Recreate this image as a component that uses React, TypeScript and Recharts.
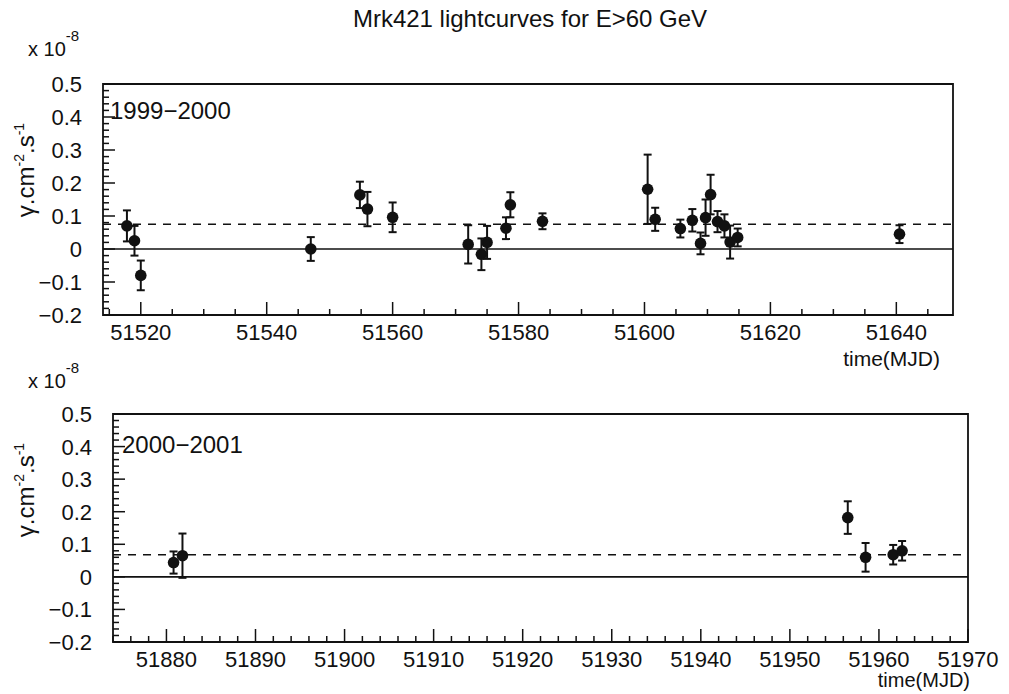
import React from 'react';
import {
  ComposedChart,
  ErrorBar,
  ReferenceArea,
  ReferenceLine,
  Scatter,
  XAxis,
  YAxis,
} from 'recharts';

// 1999-2000 season
const TOP_DAYS = [
  51517.8, 51519, 51520, 51547, 51554.8, 51556, 51560, 51572, 51574.1, 51575, 51578, 51578.7,
  51583.8, 51600.5, 51601.7, 51605.7, 51607.6, 51608.9, 51609.7, 51610.5, 51611.6, 51612.7,
  51613.6, 51614.8, 51640.5,
];
const TOP_FLUX = [
  0.07, 0.025, -0.08, 0.0, 0.164, 0.121, 0.096, 0.014, -0.016, 0.02, 0.063, 0.134, 0.084, 0.181,
  0.09, 0.062, 0.087, 0.017, 0.095, 0.165, 0.083, 0.07, 0.021, 0.035, 0.045,
];
const TOP_ERR = [
  0.047, 0.045, 0.045, 0.036, 0.04, 0.052, 0.045, 0.058, 0.048, 0.05, 0.033, 0.038, 0.024, 0.105,
  0.035, 0.027, 0.034, 0.033, 0.055, 0.06, 0.032, 0.035, 0.05, 0.027, 0.027,
];
const TOP_MEAN = 0.075;

// 2000-2001 season
const BOT_DAYS = [51880.8, 51881.8, 51956.5, 51958.5, 51961.6, 51962.6];
const BOT_FLUX = [0.044, 0.065, 0.182, 0.06, 0.068, 0.08];
const BOT_ERR = [0.034, 0.068, 0.05, 0.044, 0.03, 0.03];
const BOT_MEAN = 0.068;

const Y_MAJOR = [-0.2, -0.1, 0, 0.1, 0.2, 0.3, 0.4, 0.5];
const TOP_X_MAJOR = [51520, 51540, 51560, 51580, 51600, 51620, 51640];
const BOT_X_MAJOR = [51880, 51890, 51900, 51910, 51920, 51930, 51940, 51950, 51960, 51970];

const FONT = '"Liberation Sans", Arial, sans-serif';
const INK = '#111';

function minorTicks(majors: number[], sub: number, lo: number, hi: number) {
  const step = (majors[1] - majors[0]) / sub;
  const out: number[] = [];
  const start = majors[0] - Math.floor((majors[0] - lo) / step + 1e-9) * step;
  for (let v = start; v <= hi + 1e-9; v += step) out.push(Math.round(v * 1000) / 1000);
  return out;
}

const isIn = (list: number[], v: number) => list.some((m) => Math.abs(m - v) < 1e-6);

function fmtY(v: number) {
  if (Math.abs(v) < 1e-9) return '0';
  return v < 0 ? `\u2212${Math.abs(v).toFixed(1)}` : v.toFixed(1);
}

function makeXTick(majors: number[]) {
  return (p: any) => {
    const v = p.payload.value;
    const major = isIn(majors, v);
    return (
      <g>
        <line x1={p.x} x2={p.x} y1={p.y} y2={p.y - (major ? 13 : 6)} stroke={INK} strokeWidth={1.5} />
        {major && (
          <text x={p.x} y={p.y + 25} textAnchor="middle" fontFamily={FONT} fontSize={22} fill={INK}>
            {v}
          </text>
        )}
      </g>
    );
  };
}

function YTick(p: any) {
  const v = p.payload.value;
  const major = isIn(Y_MAJOR, v);
  return (
    <g>
      <line x1={p.x} x2={p.x + (major ? 12 : 6)} y1={p.y} y2={p.y} stroke={INK} strokeWidth={1.5} />
      {major && (
        <text x={p.x - 21} y={p.y + 8} textAnchor="end" fontFamily={FONT} fontSize={22} fill={INK}>
          {fmtY(v)}
        </text>
      )}
    </g>
  );
}

const dot = (p: any) => <circle cx={p.cx} cy={p.cy} r={5.8} fill={INK} />;

type PanelProps = {
  days: number[];
  flux: number[];
  err: number[];
  mean: number;
  domain: [number, number];
  majors: number[];
  sub: number;
  top: number;
  height: number;
  margin: { top: number; right: number; bottom: number; left: number };
};

function Panel({ days, flux, err, mean, domain, majors, sub, top, height, margin }: PanelProps) {
  const data = days.map((d, i) => ({ day: d, flux: flux[i], err: err[i] }));
  const xTicks = minorTicks(majors, sub, domain[0], domain[1]);
  const yTicks = minorTicks(Y_MAJOR, 5, -0.2, 0.5);
  return (
    <div style={{ position: 'absolute', left: 0, top }}>
      <ComposedChart width={1009} height={height} data={data} margin={margin}>
        <XAxis
          dataKey="day"
          type="number"
          domain={domain}
          ticks={xTicks}
          interval={0}
          allowDataOverflow
          height={40}
          tickSize={0}
          tickMargin={0}
          tickLine={false}
          axisLine={false}
          tick={makeXTick(majors)}
        />
        <YAxis
          type="number"
          domain={[-0.2, 0.5]}
          ticks={yTicks}
          interval={0}
          allowDataOverflow
          width={90}
          tickSize={0}
          tickMargin={0}
          tickLine={false}
          axisLine={false}
          tick={YTick}
        />
        <ReferenceArea
          x1={domain[0]}
          x2={domain[1]}
          y1={-0.2}
          y2={0.5}
          fill="none"
          stroke={INK}
          strokeWidth={1.8}
          ifOverflow="visible"
        />
        <ReferenceLine y={0} stroke={INK} strokeWidth={1.6} />
        <ReferenceLine y={mean} stroke={INK} strokeWidth={1.6} strokeDasharray="8 7" />
        <Scatter dataKey="flux" shape={dot} isAnimationActive={false}>
          <ErrorBar dataKey="err" direction="y" width={4} stroke={INK} strokeWidth={2} isAnimationActive={false} />
        </Scatter>
      </ComposedChart>
    </div>
  );
}

function YLabel({ cx, cy }: { cx: number; cy: number }) {
  return (
    <text
      transform={`translate(${cx},${cy}) rotate(-90)`}
      textAnchor="middle"
      fontFamily={FONT}
      fontSize={24}
      fill={INK}
    >
      γ.cm
      <tspan dy={-10} fontSize={14}>-2</tspan>
      <tspan dy={10}>.s</tspan>
      <tspan dy={-10} fontSize={14}>-1</tspan>
    </text>
  );
}

function Exponent({ x, y }: { x: number; y: number }) {
  return (
    <text x={x} y={y} fontFamily={FONT} fontSize={20} fill={INK}>
      x 10
      <tspan dy={-15} fontSize={15}>-8</tspan>
    </text>
  );
}

export default function App() {
  return (
    <div style={{ position: 'absolute', left: 0, top: 0, width: 1009, height: 694, background: '#fff' }}>
      <Panel
        days={TOP_DAYS}
        flux={TOP_FLUX}
        err={TOP_ERR}
        mean={TOP_MEAN}
        domain={[51514, 51649]}
        majors={TOP_X_MAJOR}
        sub={4}
        top={0}
        height={360}
        margin={{ top: 84, right: 56, bottom: 5, left: 13 }}
      />
      <Panel
        days={BOT_DAYS}
        flux={BOT_FLUX}
        err={BOT_ERR}
        mean={BOT_MEAN}
        domain={[51874, 51970]}
        majors={BOT_X_MAJOR}
        sub={5}
        top={357}
        height={334}
        margin={{ top: 57, right: 41, bottom: 9, left: 23 }}
      />
      <svg width={1009} height={694} style={{ position: 'absolute', left: 0, top: 0, pointerEvents: 'none' }}>
        <text x={530} y={27} textAnchor="middle" fontFamily={FONT} fontSize={24} fill={INK}>
          Mrk421 lightcurves for E&gt;60 GeV
        </text>
        <Exponent x={28} y={56} />
        <Exponent x={28} y={388} />
        <YLabel cx={34} cy={170} />
        <YLabel cx={34} cy={490} />
        <text x={110} y={119} fontFamily={FONT} fontSize={24} fill={INK}>1999−2000</text>
        <text x={122} y={453} fontFamily={FONT} fontSize={24} fill={INK}>2000−2001</text>
        <text x={940} y={366} textAnchor="end" fontFamily={FONT} fontSize={21} fill={INK}>time(MJD)</text>
        <text x={970} y={687} textAnchor="end" fontFamily={FONT} fontSize={20} fill={INK}>time(MJD)</text>
      </svg>
    </div>
  );
}
